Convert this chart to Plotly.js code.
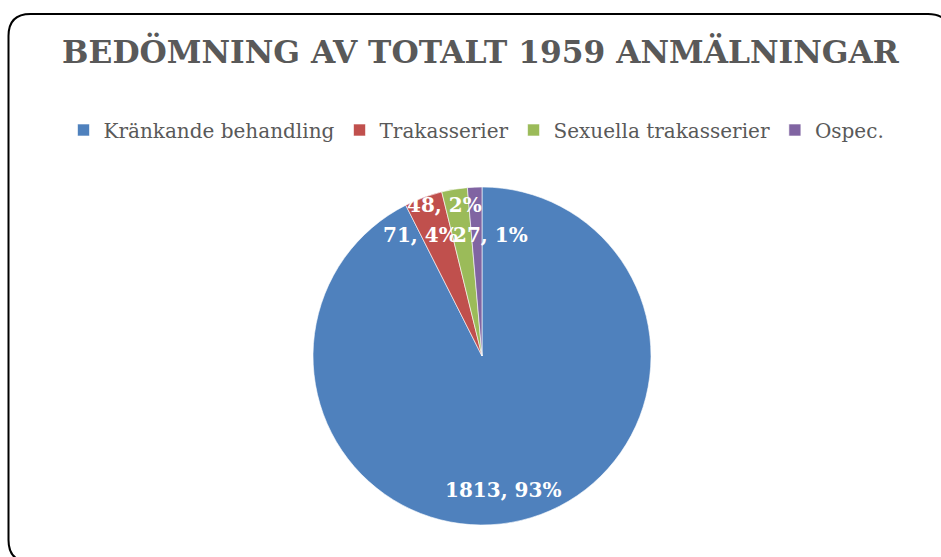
<!DOCTYPE html>
<html><head><meta charset="utf-8">
<script src="https://cdn.plot.ly/plotly-3.0.1.min.js"></script>
<style>html,body{margin:0;padding:0;background:#fff}#chart{width:941px;height:557px}</style>
</head><body><div id="chart"></div>
<script>
const labels = ['Kränkande behandling','Trakasserier','Sexuella trakasserier','Ospec.'];
const values = [1813, 71, 48, 27];
const colors = ['#4F81BD','#C0504D','#9BBB59','#8064A2'];
const titleText = 'BEDÖMNING AV TOTALT 1959 ANMÄLNINGAR';

const W = 941, H = 557;
const dom = {x: [313/W, 651/W], y: [1-525/H, 1-187/H]};
const total = values.reduce((a,b)=>a+b, 0);
const cx = (dom.x[0]+dom.x[1])/2*W, cy = (1-(dom.y[0]+dom.y[1])/2)*H;
const R = (dom.x[1]-dom.x[0])*W/2;
const labelShift = [[-10,2],[-15,6],[-15,-18],[14,14]];
let acc = 0; const annotations = [];
values.forEach((v,i)=>{
  const mid = (acc + v/2)/total*2*Math.PI; acc += v;
  const px = cx + 0.8*R*Math.sin(mid) + labelShift[i][0];
  const py = cy - 0.8*R*Math.cos(mid) + labelShift[i][1];
  annotations.push({xref:'paper', yref:'paper', x:px/W, y:1-py/H,
    text:'<b>'+v+', '+Math.round(v/total*100)+'%</b>', showarrow:false,
    font:{family:'DejaVu Serif', size:20, color:'#ffffff'}, xanchor:'center', yanchor:'middle'});
});

// rounded frame
function fx(p){return p/W;} function fy(p){return 1-p/H;}
const L=8.5, T=14, Rr=950, B=562, r=22;
const framePath = `M ${fx(L)},${fy(T+r)} Q ${fx(L)},${fy(T)} ${fx(L+r)},${fy(T)} L ${fx(Rr-r)},${fy(T)} Q ${fx(Rr)},${fy(T)} ${fx(Rr)},${fy(T+r)} L ${fx(Rr)},${fy(B-r)} Q ${fx(Rr)},${fy(B)} ${fx(Rr-r)},${fy(B)} L ${fx(L+r)},${fy(B)} Q ${fx(L)},${fy(B)} ${fx(L)},${fy(B-r)} Z`;

const data = [{
  type:'pie', labels:labels, values:values, sort:false, direction:'clockwise', rotation:0,
  marker:{colors:colors, line:{color:'#ffffff', width:0.6}},
  textinfo:'none', hoverinfo:'label+value+percent', domain:dom
}];
const layout = {
  width:W, height:H, margin:{l:0,r:0,t:0,b:0}, paper_bgcolor:'#ffffff',
  title:{text:titleText, x:0.5+10/W, xanchor:'center', y:1-52/H, yanchor:'middle',
    font:{family:'DejaVu Serif', size:31.3, color:'#595959', weight:700}},
  legend:{orientation:'h', x:0.5+6/W, xanchor:'center', y:1-130/H, yanchor:'middle',
    font:{family:'DejaVu Serif', size:20, color:'#595959'}, itemwidth:30, traceorder:'normal'},
  annotations:annotations,
  shapes:[{type:'path', xref:'paper', yref:'paper', path:framePath, line:{color:'#000000', width:2}, layer:'above'}]
};
Plotly.newPlot('chart', data, layout, {displayModeBar:false, staticPlot:true});
</script></body></html>
